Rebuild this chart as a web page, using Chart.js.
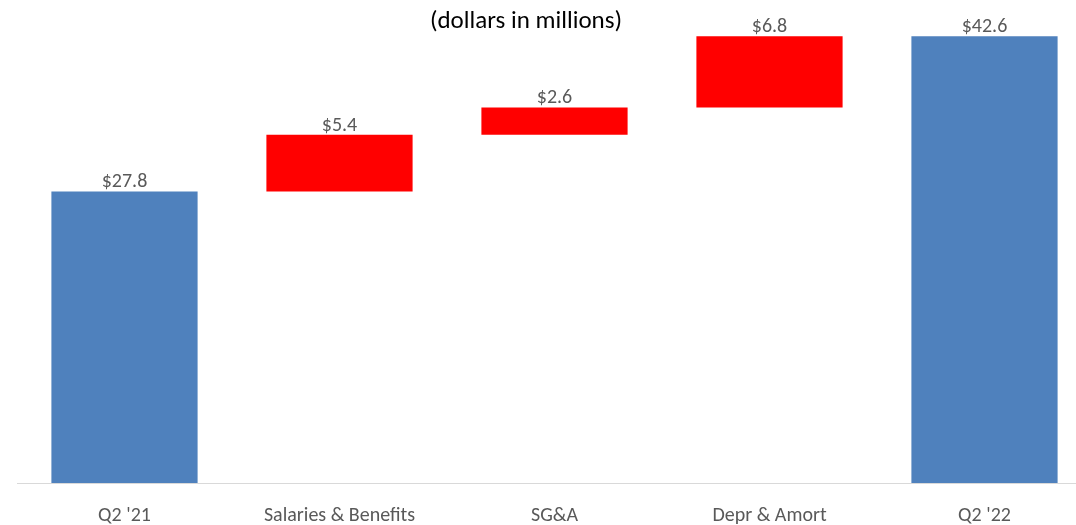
<!DOCTYPE html>
<html>
<head>
<meta charset="utf-8">
<script src="https://cdn.jsdelivr.net/npm/chart.js@4"></script>
<style>
  html, body { margin: 0; padding: 0; background: #fff; overflow: hidden; }
  .wrap { width: 1092px; height: 525px; }
</style>
</head>
<body>
<div class="wrap"><canvas id="waterfall"></canvas></div>
<script>
// waterfall data, dollars in millions
const categories = ['Q2 \'21', 'Salaries & Benefits', 'SG&A', 'Depr & Amort', 'Q2 \'22'];
const amounts = [27.8, 5.4, 2.6, 6.8, 42.6];
const isTotal = [true, false, false, false, true];

const BLUE = '#4f81bd';
const RED = '#ff0000';
const FONT = 'Carlito, "Liberation Sans Narrow", Lato, sans-serif';

// build floating [start, end] ranges
let running = 0;
const ranges = amounts.map((v, i) => {
    if (isTotal[i]) { running = v; return [0, v]; }
    const r = [running, running + v];
    running += v;
    return r;
});

const labelsPlugin = {
    id: 'wfLabels',
    afterDatasetsDraw(chart) {
        const ctx = chart.ctx;
        const meta = chart.getDatasetMeta(0);
        ctx.save();
        ctx.fillStyle = '#595959';
        ctx.font = '20px ' + FONT;
        ctx.textAlign = 'center';
        ctx.textBaseline = 'bottom';
        meta.data.forEach((bar, i) => {
            ctx.fillText('$' + amounts[i].toFixed(1), bar.x, bar.y + 1);
        });
        // subtitle
        ctx.fillStyle = '#000';
        ctx.font = '25px ' + FONT;
        ctx.textBaseline = 'middle';
        ctx.fillText('(dollars in millions)', 526, 22);
        ctx.restore();
    }
};

new Chart(document.getElementById('waterfall'), {
    type: 'bar',
    data: {
        labels: categories,
        datasets: [{
            data: ranges,
            backgroundColor: isTotal.map(t => t ? BLUE : RED),
            borderWidth: 0,
            barPercentage: 0.68,
            categoryPercentage: 1
        }]
    },
    options: {
        responsive: true,
        maintainAspectRatio: false,
        animation: false,
        layout: { padding: { left: 17, top: 11, right: 0, bottom: 0 } },
        plugins: {
            legend: { display: false },
            tooltip: { enabled: false }
        },
        scales: {
            x: {
                grid: { display: false },
                border: { color: '#d9d9d9', width: 1 },
                ticks: {
                    color: '#595959',
                    font: { size: 20, family: FONT },
                    padding: 13,
                    maxRotation: 0
                },
                afterFit(scale) { scale.height = 42; }
            },
            y: {
                display: false,
                min: 0,
                max: 45
            }
        }
    },
    plugins: [labelsPlugin]
});
</script>
</body>
</html>
